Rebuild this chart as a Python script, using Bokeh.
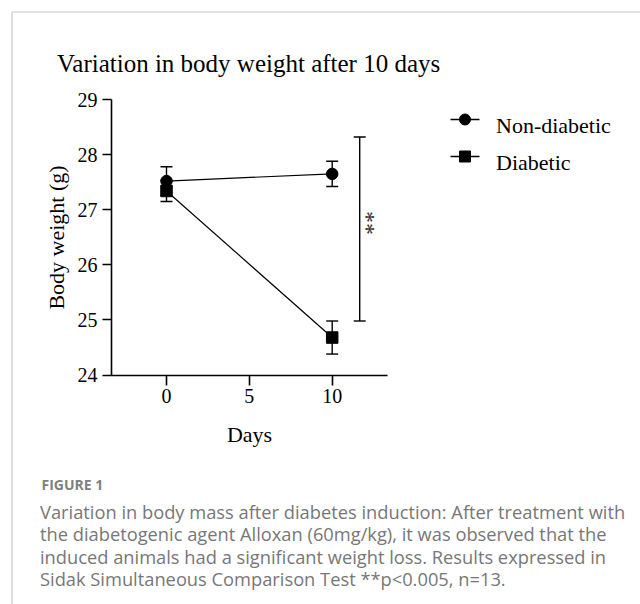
from bokeh.plotting import figure
from bokeh.models import (ColumnDataSource, LinearAxis, FixedTicker, Range1d,
                          Whisker, TeeHead)
from bokeh.core.properties import value
from bokeh.embed import file_html
from bokeh.resources import INLINE

# ---- data -------------------------------------------------------------
days = [0, 10]
non_diabetic_mean = [27.52, 27.65]
non_diabetic_sem = [0.26, 0.23]
diabetic_mean = [27.34, 24.68]
diabetic_sem = [0.19, 0.30]

series_names = ["Non-diabetic", "Diabetic"]
y_ticks = [24, 25, 26, 27, 28, 29]
x_ticks = [0, 5, 10]

# significance bracket between groups at day 10
sig_day = 11.66
sig_low = 24.98
sig_high = 28.32
sig_text = "**"
sig_text_y = 26.76

title_text = "Variation in body weight after 10 days"
caption_head = "FIGURE 1"
caption_lines = [
    "Variation in body mass after diabetes induction: After treatment with",
    "the diabetogenic agent Alloxan (60mg/kg), it was observed that the",
    "induced animals had a significant weight loss. Results expressed in",
    "Sidak Simultaneous Comparison Test **p<0.005, n=13.",
]

# ---- canvas <-> data mapping -------------------------------------------
W, H = 640, 604
X0_PX, PX_PER_DAY = 166.0, 16.57     # pixel column of day 0, px per day
Y29_PX, PX_PER_G = 99.0, 55.1        # pixel row of 29 g, px per gram


def fx(px):
    return (px - X0_PX) / PX_PER_DAY


def fy(py):
    return 29 - (py - Y29_PX) / PX_PER_G


SERIF = value("Liberation Serif")
SANS = value("Open Sans")

p = figure(width=W, height=H, title=None, toolbar_location=None,
           output_backend="svg", x_axis_type=None, y_axis_type=None,
           x_range=Range1d(fx(0), fx(W)), y_range=Range1d(fy(H), fy(0)),
           min_border=0, outline_line_color=None)
p.grid.visible = False
p.background_fill_color = "white"
p.border_fill_color = "white"

x_lo, x_hi = fx(111), fx(386.7)

# ---- axes ---------------------------------------------------------------
yax = LinearAxis(fixed_location=x_lo, bounds=(24, 29),
                 ticker=FixedTicker(ticks=y_ticks),
                 axis_label="Body weight (g)")
xax = LinearAxis(fixed_location=24, bounds=(x_lo, x_hi),
                 ticker=FixedTicker(ticks=x_ticks),
                 axis_label="Days")
for ax in (xax, yax):
    ax.axis_line_width = 1.6
    ax.major_tick_line_width = 1.6
    ax.axis_line_color = "black"
    ax.major_tick_line_color = "black"
    ax.major_tick_in = 0
    ax.minor_tick_line_color = None
    ax.major_label_text_font = "Liberation Serif"
    ax.major_label_text_font_size = "20px"
    ax.major_label_text_color = "black"
    ax.axis_label_text_font = "Liberation Serif"
    ax.axis_label_text_font_size = "22px"
    ax.axis_label_text_font_style = "normal"
    ax.axis_label_text_color = "black"
yax.major_tick_out = 9
yax.major_label_standoff = 5
yax.axis_label_standoff = 6
xax.major_tick_out = 10
xax.major_label_standoff = 4
xax.axis_label_standoff = 15
p.add_layout(yax, "left")
p.add_layout(xax, "below")

# ---- series -------------------------------------------------------------
nd = ColumnDataSource(dict(
    x=days, y=non_diabetic_mean,
    lo=[m - s for m, s in zip(non_diabetic_mean, non_diabetic_sem)],
    hi=[m + s for m, s in zip(non_diabetic_mean, non_diabetic_sem)]))
db = ColumnDataSource(dict(
    x=days, y=diabetic_mean,
    lo=[m - s for m, s in zip(diabetic_mean, diabetic_sem)],
    hi=[m + s for m, s in zip(diabetic_mean, diabetic_sem)]))

for src in (nd, db):
    p.line("x", "y", source=src, line_color="black", line_width=1.2)
    p.add_layout(Whisker(source=src, base="x", lower="lo", upper="hi",
                         level="underlay", line_color="black", line_width=1.4,
                         upper_head=TeeHead(size=12, line_width=1.4),
                         lower_head=TeeHead(size=12, line_width=1.4)))

p.scatter("x", "y", source=nd, marker="circle", size=11.5,
          fill_color="black", line_color="black")
p.scatter("x", "y", source=db, marker="square", size=11.5,
          fill_color="black", line_color="black")

# ---- significance bracket ----------------------------------------------
sig = ColumnDataSource(dict(x=[sig_day], lo=[sig_low], hi=[sig_high]))
p.add_layout(Whisker(source=sig, base="x", lower="lo", upper="hi",
                     line_color="black", line_width=1.4,
                     upper_head=TeeHead(size=12, line_width=1.4),
                     lower_head=TeeHead(size=12, line_width=1.4)))
p.text(x=[fx(366.5)], y=[sig_text_y], text=[sig_text],
       angle=-1.5708, text_font=SERIF, text_font_size="24px",
       text_color="#333333", text_align="center", text_baseline="middle")

# ---- legend -------------------------------------------------------------
leg_rows = [119, 156]
leg_markers = ["circle", "square"]
for row, mk, name in zip(leg_rows, leg_markers, series_names):
    p.segment(x0=[fx(450)], y0=[fy(row)], x1=[fx(479)], y1=[fy(row)],
              line_color="black", line_width=1.6)
    p.scatter(x=[fx(464.5)], y=[fy(row)], marker=mk, size=11,
              fill_color="black", line_color="black")
    p.text(x=[fx(495.5)], y=[fy(row + 6)], text=[name], text_font=SERIF,
           text_font_size="22px", text_color="black",
           text_baseline="alphabetic")

# ---- title ----------------------------------------------------------------
p.text(x=[fx(56.5)], y=[fy(63)], text=[title_text], text_font=SERIF,
       text_font_size="25px", text_color="black", text_baseline="alphabetic")

# ---- panel border -------------------------------------------------------
p.segment(x0=[fx(11.5), fx(11.5)], y0=[fy(11.5), fy(11.5)],
          x1=[fx(W), fx(11.5)], y1=[fy(11.5), fy(H)],
          line_color="#c8c8c8", line_width=1.2)

# ---- caption --------------------------------------------------------------
p.text(x=[fx(41)], y=[fy(484)], text=[caption_head], text_font=SANS,
       text_font_size="14px", text_font_style="bold", text_color="#808080",
       text_baseline="alphabetic")
p.text(x=[fx(39.5)] * len(caption_lines),
       y=[fy(511 + 22.4 * i) for i in range(len(caption_lines))],
       text=caption_lines, text_font=SANS, text_font_size="18.3px",
       text_color="#777777", text_baseline="alphabetic")

open("out.html", "w").write(file_html(p, INLINE))
